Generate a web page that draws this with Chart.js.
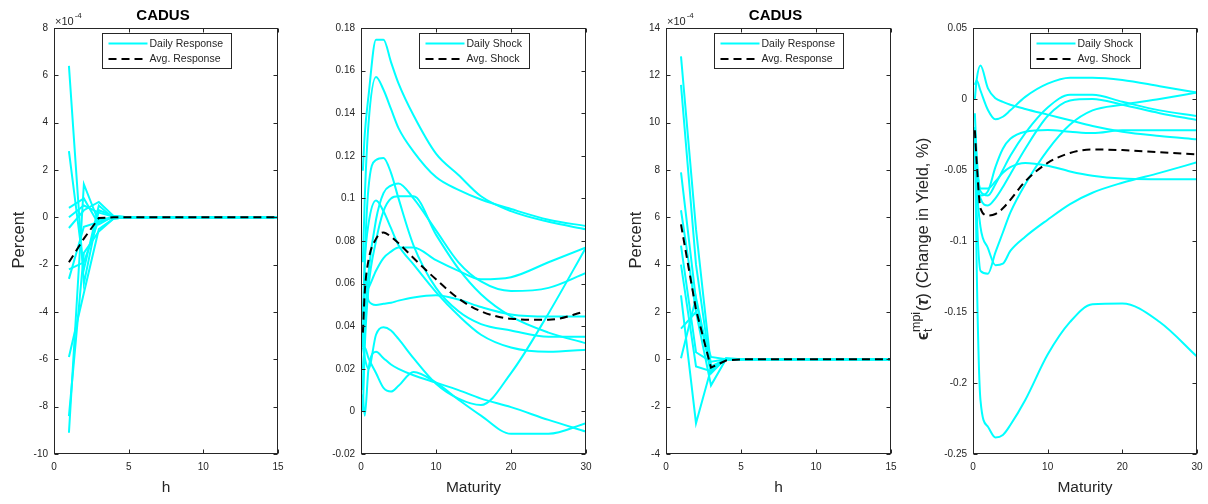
<!DOCTYPE html>
<html>
<head>
<meta charset="utf-8">
<script src="https://cdn.jsdelivr.net/npm/chart.js@4"></script>
<style>
  body { margin: 0; background: #fff; width: 1208px; height: 504px; overflow: hidden; position: relative; }
  .panel { position: absolute; top: 0; }
</style>
</head>
<body>
<div class="panel" style="left:0px"><canvas id="c1" width="288" height="504"></canvas></div>
<div class="panel" style="left:296px"><canvas id="c2" width="300" height="504"></canvas></div>
<div class="panel" style="left:604px"><canvas id="c3" width="296" height="504"></canvas></div>
<div class="panel" style="left:900px"><canvas id="c4" width="308" height="504"></canvas></div>
<script>
const FONT = '"Liberation Sans", Arial, Helvetica, sans-serif';
const AXIS = '#262626';
const CYAN = '#00FFFF';

// impulse response horizons (days)
const horizons = [1, 2, 3, 4, 5, 6, 7, 8, 9, 10, 11, 12, 13, 14, 15];
// yield curve maturities (years)
const maturities = [0.25, 0.5, 1, 2, 3, 4, 5, 7, 10, 13, 16, 20, 25, 30];

// panel 1 - daily responses, units of 1e-4
const respDaily1 = [
  [6.4, -2.8, 0.3, 0.05, 0, 0, 0, 0, 0, 0, 0, 0, 0, 0, 0],
  [2.8, -2.2, 0.5, -0.05, 0, 0, 0, 0, 0, 0, 0, 0, 0, 0, 0],
  [0.4, 0.8, -0.3, 0.05, 0, 0, 0, 0, 0, 0, 0, 0, 0, 0, 0],
  [0.0, 0.5, 0.2, 0.02, 0, 0, 0, 0, 0, 0, 0, 0, 0, 0, 0],
  [-0.45, 0.3, 0.65, 0.05, 0, 0, 0, 0, 0, 0, 0, 0, 0, 0, 0],
  [-2.2, -1.9, -0.1, 0.0, 0, 0, 0, 0, 0, 0, 0, 0, 0, 0, 0],
  [-2.6, -0.4, -0.2, 0.03, 0, 0, 0, 0, 0, 0, 0, 0, 0, 0, 0],
  [-5.9, -3.2, -0.5, -0.05, 0, 0, 0, 0, 0, 0, 0, 0, 0, 0, 0],
  [-8.4, -1.5, -0.6, -0.05, 0, 0, 0, 0, 0, 0, 0, 0, 0, 0, 0],
  [-9.1, 1.4, -0.2, 0.0, 0, 0, 0, 0, 0, 0, 0, 0, 0, 0, 0]
];
const respAvg1 = [-1.9, -0.9, -0.03, 0, 0, 0, 0, 0, 0, 0, 0, 0, 0, 0, 0];

// panel 2 - daily shocks across maturities (%)
const shockDaily2 = [
  [0.113, 0.130, 0.148, 0.1745, 0.1745, 0.164, 0.154, 0.139, 0.121, 0.111, 0.101, 0.094, 0.089, 0.0855],
  [0.070, 0.100, 0.135, 0.157, 0.151, 0.142, 0.133, 0.122, 0.110, 0.104, 0.0995, 0.095, 0.090, 0.087],
  [0.030, 0.070, 0.105, 0.118, 0.119, 0.112, 0.100, 0.078, 0.058, 0.047, 0.041, 0.038, 0.035, 0.035],
  [0.010, 0.040, 0.065, 0.090, 0.1025, 0.106, 0.107, 0.100, 0.085, 0.070, 0.061, 0.0565, 0.058, 0.065],
  [0.000, 0.030, 0.058, 0.080, 0.094, 0.100, 0.101, 0.101, 0.083, 0.067, 0.055, 0.0446, 0.037, 0.032],
  [0.045, 0.070, 0.088, 0.099, 0.094, 0.086, 0.078, 0.069, 0.056, 0.045, 0.036, 0.030, 0.028, 0.029],
  [0.047, 0.055, 0.058, 0.066, 0.072, 0.075, 0.077, 0.077, 0.071, 0.066, 0.062, 0.063, 0.070, 0.077],
  [0.030, 0.065, 0.052, 0.050, 0.0505, 0.051, 0.052, 0.0535, 0.0545, 0.0525, 0.049, 0.0455, 0.0445, 0.0445],
  [0.030, 0.025, 0.020, 0.036, 0.0395, 0.038, 0.034, 0.025, 0.013, 0.006, 0.003, 0.018, 0.046, 0.077],
  [0.008, -0.002, 0.020, 0.028, 0.025, 0.022, 0.020, 0.017, 0.0135, 0.010, 0.006, 0.002, -0.004, -0.0095],
  [0.020, 0.030, 0.025, 0.018, 0.011, 0.0093, 0.012, 0.0185, 0.0135, 0.0055, -0.002, -0.0105, -0.0105, -0.0055]
];
const shockAvg2 = [0.037, 0.056, 0.071, 0.081, 0.084, 0.082, 0.079, 0.072, 0.062, 0.053, 0.047, 0.0435, 0.043, 0.047];

// panel 3 - daily responses, units of 1e-4
const respDaily3 = [
  [12.8, 5.5, -0.3, 0.0, 0, 0, 0, 0, 0, 0, 0, 0, 0, 0, 0],
  [11.6, 4.0, -0.5, 0.0, 0, 0, 0, 0, 0, 0, 0, 0, 0, 0, 0],
  [7.9, 2.5, -0.6, 0.05, 0, 0, 0, 0, 0, 0, 0, 0, 0, 0, 0],
  [6.3, 2.0, 0.1, 0.0, 0, 0, 0, 0, 0, 0, 0, 0, 0, 0, 0],
  [4.8, 0.3, -0.1, 0.0, 0, 0, 0, 0, 0, 0, 0, 0, 0, 0, 0],
  [4.0, -0.3, -0.5, 0.0, 0, 0, 0, 0, 0, 0, 0, 0, 0, 0, 0],
  [2.7, -2.7, -0.4, 0.0, 0, 0, 0, 0, 0, 0, 0, 0, 0, 0, 0],
  [1.3, 2.0, -1.1, 0.0, 0, 0, 0, 0, 0, 0, 0, 0, 0, 0, 0],
  [0.05, 2.6, -0.4, 0.0, 0, 0, 0, 0, 0, 0, 0, 0, 0, 0, 0]
];
const respAvg3 = [5.7, 2.1, -0.35, -0.05, 0, 0, 0, 0, 0, 0, 0, 0, 0, 0, 0];

// panel 4 - daily shocks across maturities (%)
const shockDaily4 = [
  [0.000, 0.014, 0.0236, 0.0075, 0.0005, -0.002, -0.004, -0.007, -0.011, -0.015, -0.019, -0.023, -0.026, -0.0284],
  [0.010, 0.013, 0.006, -0.0077, -0.0143, -0.0125, -0.008, 0.0015, 0.0108, 0.015, 0.015, 0.0134, 0.009, 0.0045],
  [-0.010, -0.040, -0.065, -0.068, -0.060, -0.050, -0.040, -0.024, -0.006, 0.003, 0.003, -0.002, -0.008, -0.012],
  [-0.020, -0.050, -0.070, -0.075, -0.070, -0.062, -0.053, -0.035, -0.012, -0.001, 0.000, -0.004, -0.010, -0.0148],
  [-0.040, -0.060, -0.068, -0.065, -0.048, -0.035, -0.028, -0.023, -0.0218, -0.023, -0.024, -0.022, -0.022, -0.022],
  [-0.040, -0.050, -0.063, -0.063, -0.058, -0.052, -0.048, -0.045, -0.047, -0.051, -0.054, -0.056, -0.0565, -0.0566],
  [-0.030, -0.080, -0.121, -0.123, -0.108, -0.094, -0.080, -0.060, -0.036, -0.018, -0.008, -0.004, 0.000, 0.0045],
  [-0.020, -0.060, -0.090, -0.105, -0.117, -0.116, -0.107, -0.097, -0.085, -0.074, -0.066, -0.059, -0.052, -0.0446],
  [-0.020, -0.120, -0.212, -0.2308, -0.2383, -0.2366, -0.2296, -0.212, -0.180, -0.157, -0.1445, -0.1440, -0.157, -0.1814]
];
const shockAvg4 = [-0.022, -0.045, -0.077, -0.082, -0.081, -0.077, -0.071, -0.058, -0.045, -0.038, -0.0355, -0.036, -0.0375, -0.039];

const fmt = v => String(Math.round(v * 1000) / 1000);

function drawRotated(ctx, pieces, bx, cy) {
  // pieces drawn left to right along the rotated baseline, centred on cy
  let total = 0;
  pieces.forEach(p => {
    ctx.font = p.f;
    p.w = p.sub ? Math.max(ctx.measureText(p.sub).width, ctx.measureText(p.sup).width) + 1 : ctx.measureText(p.t).width;
    total += p.w;
  });
  ctx.save();
  ctx.translate(bx, cy);
  ctx.rotate(-Math.PI / 2);
  ctx.textAlign = 'left';
  ctx.textBaseline = 'alphabetic';
  let x = -total / 2;
  pieces.forEach(p => {
    ctx.font = p.f;
    if (p.sub) {
      ctx.fillText(p.sub, x, 4);
      ctx.fillText(p.sup, x, -8);
    } else {
      ctx.fillText(p.t, x, 0);
    }
    x += p.w;
  });
  ctx.restore();
}

function frame(p) {
  return {
    id: 'matlabFrame',
    afterDraw(chart) {
      const ctx = chart.ctx, a = chart.chartArea;
      const xs = chart.scales.x, ys = chart.scales.y;
      const L = Math.round(a.left) + 0.5, R = Math.round(a.right) - 0.5;
      const T = Math.round(a.top) + 0.5, B = Math.round(a.bottom) - 0.5;
      ctx.save();
      ctx.strokeStyle = AXIS;
      ctx.lineWidth = 1;
      ctx.strokeRect(L, T, R - L, B - T);
      // inward ticks on all four sides
      ctx.beginPath();
      xs.ticks.forEach(t => {
        const px = Math.round(xs.getPixelForValue(t.value)) + 0.5;
        ctx.moveTo(px, B); ctx.lineTo(px, B - 4);
        ctx.moveTo(px, T); ctx.lineTo(px, T + 4);
      });
      ys.ticks.forEach(t => {
        const py = Math.round(ys.getPixelForValue(t.value)) + 0.5;
        ctx.moveTo(L, py); ctx.lineTo(L + 4, py);
        ctx.moveTo(R, py); ctx.lineTo(R - 4, py);
      });
      ctx.stroke();

      // legend box
      const labels = [p.dailyLabel, p.avgLabel];
      ctx.font = `10.5px ${FONT}`;
      const tw = Math.max(...labels.map(t => ctx.measureText(t).width));
      const w = Math.round(6 + 39 + 2 + tw + 8), h = 35;
      const bx = Math.round((a.left + a.right) / 2 - w / 2) + 0.5, by = Math.round(a.top + 5) + 0.5;
      ctx.fillStyle = '#fff';
      ctx.fillRect(bx, by, w, h);
      ctx.strokeRect(bx, by, w, h);
      [CYAN, '#000'].forEach((col, i) => {
        const ry = by + 10 + i * 15.6;
        ctx.strokeStyle = col;
        ctx.lineWidth = 2;
        ctx.setLineDash(i ? [8, 5] : []);
        ctx.beginPath();
        ctx.moveTo(bx + 6, ry); ctx.lineTo(bx + 45, ry);
        ctx.stroke();
        ctx.setLineDash([]);
        ctx.fillStyle = AXIS;
        ctx.textAlign = 'left';
        ctx.textBaseline = 'middle';
        ctx.fillText(labels[i], bx + 47, ry + 0.5);
      });

      // axis titles
      const cx = (a.left + a.right) / 2;
      ctx.fillStyle = AXIS;
      ctx.font = `15.5px ${FONT}`;
      ctx.textAlign = 'center';
      ctx.textBaseline = 'alphabetic';
      ctx.fillText(p.xTitle, cx, 492);
      if (p.eps) {
        drawRotated(ctx, [
          { t: 'ϵ', f: `bold 17px ${FONT}` },
          { sub: 't', sup: 'mpi', f: `12.5px ${FONT}` },
          { t: '(', f: `16.5px ${FONT}` },
          { t: 'τ', f: `italic bold 16.5px ${FONT}` },
          { t: ')', f: `16.5px ${FONT}` },
          { t: ' (Change in Yield, %)', f: `16.5px ${FONT}` }
        ], p.yTitleX, 239);
      } else {
        drawRotated(ctx, [{ t: p.yTitle, f: `16.5px ${FONT}` }], p.yTitleX, 240);
      }
      if (p.title) {
        ctx.font = `bold 15px ${FONT}`;
        ctx.textAlign = 'center';
        ctx.fillStyle = '#000';
        ctx.fillText(p.title, cx - 3, 20);
      }
      if (p.exponent) {
        ctx.fillStyle = AXIS;
        ctx.textAlign = 'left';
        ctx.font = `11px ${FONT}`;
        ctx.fillText('×10', a.left + 1, 25);
        const ew = ctx.measureText('×10').width;
        ctx.font = `8px ${FONT}`;
        ctx.fillText(p.exponent, a.left + 2 + ew, 18);
      }
      ctx.restore();
    }
  };
}

function buildPanel(id, p) {
  const lineStyle = {
    pointRadius: 0,
    tension: 0,
    cubicInterpolationMode: p.smooth ? 'monotone' : 'default'
  };
  const datasets = p.daily.map(vals => Object.assign({
    label: p.dailyLabel,
    data: p.xs.map((x, i) => ({ x: x, y: vals[i] })),
    borderColor: CYAN,
    borderWidth: 2,
    order: 1
  }, lineStyle));
  datasets.push(Object.assign({
    label: p.avgLabel,
    data: p.xs.map((x, i) => ({ x: x, y: p.avg[i] })),
    borderColor: '#000',
    borderWidth: 2,
    borderDash: [8, 5],
    order: 0
  }, lineStyle));

  const tickFont = { family: FONT, size: 10 };
  return new Chart(document.getElementById(id), {
    type: 'line',
    data: { datasets: datasets },
    options: {
      responsive: false,
      animation: false,
      devicePixelRatio: 1,
      layout: { autoPadding: false, padding: { left: 0, right: p.padRight, top: 28, bottom: 0 } },
      plugins: { legend: { display: false }, tooltip: { enabled: false } },
      scales: {
        x: {
          type: 'linear', min: p.xMin, max: p.xMax,
          afterFit: s => { s.height = 50; s.paddingLeft = 0; s.paddingRight = 0; },
          ticks: { stepSize: p.xStep, font: tickFont, color: AXIS, padding: 7, maxRotation: 0, autoSkip: false, callback: fmt },
          grid: { display: false, drawTicks: false },
          border: { display: false }
        },
        y: {
          type: 'linear', min: p.yMin, max: p.yMax,
          afterFit: s => { s.width = p.yWidth; s.paddingTop = 0; s.paddingBottom = 0; },
          ticks: { stepSize: p.yStep, font: tickFont, color: AXIS, padding: 6, autoSkip: false, callback: fmt },
          grid: { display: false, drawTicks: false },
          border: { display: false }
        }
      }
    },
    plugins: [frame(p)]
  });
}

buildPanel('c1', {
  xs: horizons, daily: respDaily1, avg: respAvg1, smooth: false,
  dailyLabel: 'Daily Response', avgLabel: 'Avg. Response',
  xMin: 0, xMax: 15, xStep: 5, yMin: -10, yMax: 8, yStep: 2,
  yWidth: 54, padRight: 10,
  title: 'CADUS', exponent: '-4', xTitle: 'h', yTitle: 'Percent', yTitleX: 24
});
buildPanel('c2', {
  xs: maturities, daily: shockDaily2, avg: shockAvg2, smooth: true,
  dailyLabel: 'Daily Shock', avgLabel: 'Avg. Shock',
  xMin: 0, xMax: 30, xStep: 10, yMin: -0.02, yMax: 0.18, yStep: 0.02,
  yWidth: 65, padRight: 10,
  xTitle: 'Maturity', eps: true, yTitleX: 318
});
buildPanel('c3', {
  xs: horizons, daily: respDaily3, avg: respAvg3, smooth: false,
  dailyLabel: 'Daily Response', avgLabel: 'Avg. Response',
  xMin: 0, xMax: 15, xStep: 5, yMin: -4, yMax: 14, yStep: 2,
  yWidth: 62, padRight: 9,
  title: 'CADUS', exponent: '-4', xTitle: 'h', yTitle: 'Percent', yTitleX: 37
});
buildPanel('c4', {
  xs: maturities, daily: shockDaily4, avg: shockAvg4, smooth: true,
  dailyLabel: 'Daily Shock', avgLabel: 'Avg. Shock',
  xMin: 0, xMax: 30, xStep: 10, yMin: -0.25, yMax: 0.05, yStep: 0.05,
  yWidth: 73, padRight: 11,
  xTitle: 'Maturity', eps: true, yTitleX: 28
});
</script>
</body>
</html>
